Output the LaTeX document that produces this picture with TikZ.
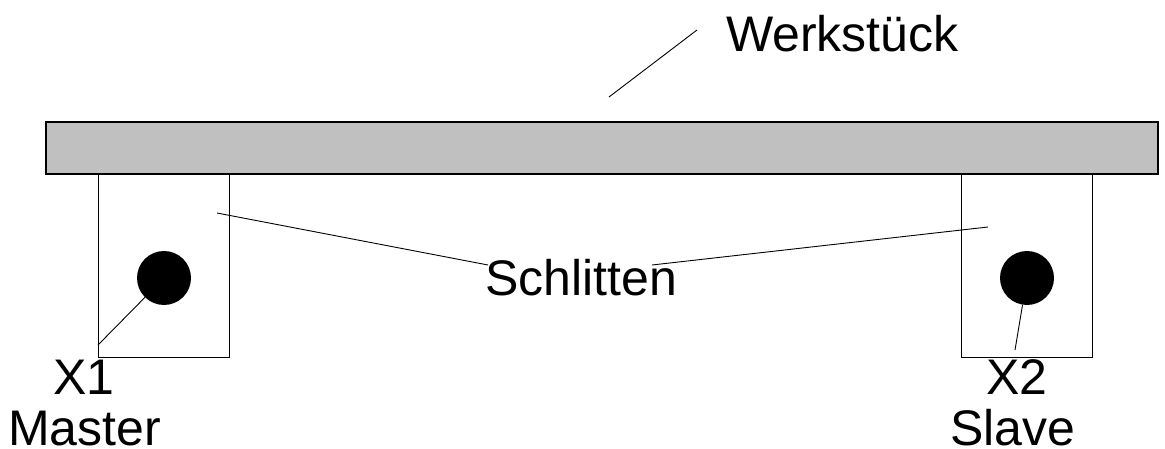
\documentclass[tikz,border=0pt]{standalone}
\usepackage{fontspec}
\setmainfont{Liberation Sans}
\begin{document}
\begin{tikzpicture}[x=1pt,y=-1pt,
  lbl/.style={anchor=base west,inner sep=0pt,font=\fontsize{50}{60}\selectfont},
  thin line/.style={draw=black,line width=0.9pt},
  box/.style={draw=black,line width=1pt},
  dot/.style={circle,fill=black,minimum size=54pt,inner sep=0pt}]
\useasboundingbox (0,0) rectangle (1165,449);
% workpiece
\path[box,fill={rgb,255:red,192;green,192;blue,192},line width=1.2pt] (46,122) rectangle (1158,174);
% carriages
\node[box,minimum width=131pt,minimum height=183pt,inner sep=0pt,anchor=north west] (carL) at (98,174) {};
\node[box,minimum width=131pt,minimum height=183pt,inner sep=0pt,anchor=north west] (carR) at (961,174) {};
\node[dot] (dotL) at (164,278) {};
\node[dot] (dotR) at (1027,278) {};
% labels
\node[lbl] (werk) at (726,52) {Werkstück};
\node[lbl] (schl) at (485,295) {Schlitten};
\node[lbl] (x1) at (53,394) {X1};
\node[lbl] (master) at (8,445) {Master};
\node[lbl] (x2) at (986,394) {X2};
\node[lbl] (slave) at (950,445) {Slave};
% connector points
\coordinate (w1) at (609,97);
\coordinate (w2) at (697,30);
\coordinate (s1) at (217,213);
\coordinate (s2) at (488,265);
\coordinate (s3) at (652,265);
\coordinate (s4) at (988,227);
\coordinate (p1) at (98,345);
\coordinate (p2) at (1015,350);
\draw[thin line] (w1) -- (w2);
\draw[thin line] (s1) -- (s2);
\draw[thin line] (s3) -- (s4);
\draw[thin line] (dotL) -- (p1);
\draw[thin line] (dotR) -- (p2);
\end{tikzpicture}
\end{document}
